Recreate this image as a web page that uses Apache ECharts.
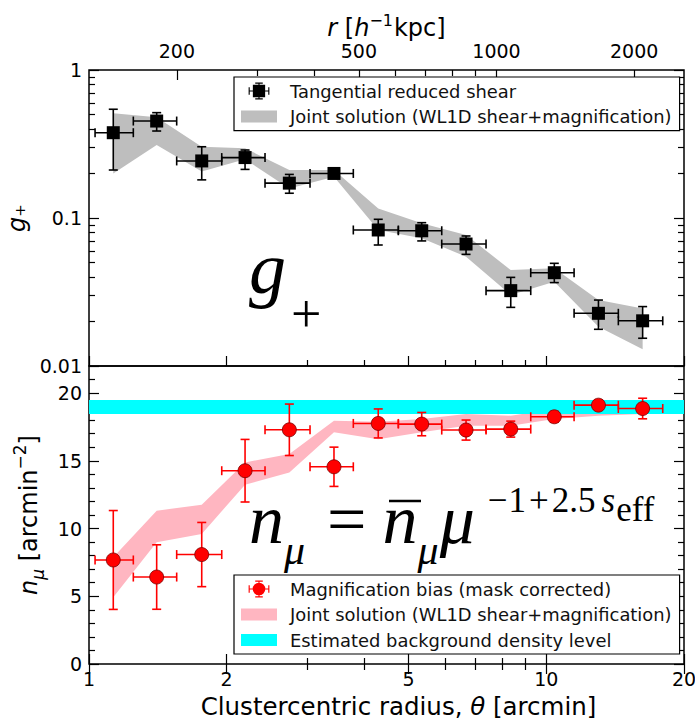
<!DOCTYPE html>
<html>
<head>
<meta charset="utf-8">
<script src="https://cdn.jsdelivr.net/npm/echarts@6.0.0/dist/echarts.min.js"></script>
<style>
  html, body { margin: 0; padding: 0; background: #fff; }
  #chart { width: 695px; height: 723px; }
</style>
</head>
<body>
<div id="chart"></div>
<script>
// Radial bins in arcmin: bin centres and bin edges
const thetaMid = [1.13, 1.406, 1.764, 2.194, 2.742, 3.433, 4.29, 5.34, 6.675, 8.36, 10.41, 13.0, 16.24];
const thetaLo  = [1.031, 1.250, 1.555, 1.951, 2.426, 3.043, 3.784, 4.747, 5.906, 7.382, 9.245, 11.50, 14.37];
const thetaHi  = [1.250, 1.555, 1.951, 2.426, 3.043, 3.784, 4.747, 5.906, 7.382, 9.245, 11.50, 14.37, 17.97];

// Tangential reduced shear g+ and its 1-sigma range
const gPlus   = [0.377, 0.452, 0.243, 0.256, 0.172, 0.200, 0.083, 0.082, 0.0667, 0.0323, 0.0427, 0.0227, 0.0202];
const gPlusLo = [0.211, 0.387, 0.181, 0.213, 0.147, 0.190, 0.0657, 0.070, 0.0568, 0.0249, 0.0366, 0.0177, 0.0154];
const gPlusHi = [0.543, 0.515, 0.303, 0.288, 0.197, 0.210, 0.098, 0.093, 0.0756, 0.0397, 0.0494, 0.0279, 0.0252];

// Joint WL1D solution for g+
const gJointLo = [0.200, 0.311, 0.206, 0.249, 0.158, 0.190, 0.083, 0.073, 0.0548, 0.0302, 0.0371, 0.0184, 0.0130];
const gJointHi = [0.510, 0.479, 0.303, 0.296, 0.211, 0.211, 0.116, 0.092, 0.0768, 0.0445, 0.0457, 0.0279, 0.0245];

// Magnification bias: number density and errors [arcmin^-2]
const nMu    = [7.68, 6.42, 8.08, 14.27, 17.29, 14.56, 17.76, 17.71, 17.27, 17.34, 18.25, 19.11, 18.86];
const nMuErr = [3.65, 2.38, 2.37, 2.31, 1.90, 1.45, 1.07, 0.86, 0.74, 0.59, 0.40, 0.35, 0.76];

// Joint WL1D solution for n_mu
const nJointLo = [4.93, 8.98, 9.60, 13.24, 14.14, 17.10, 16.60, 17.10, 17.59, 17.59, 18.08, 18.33, 18.45];
const nJointHi = [7.88, 11.32, 11.76, 14.88, 15.50, 17.96, 17.88, 18.08, 18.45, 18.33, 18.82, 18.94, 18.94];

// Background density level (lower, upper)
const nBackground = [18.45, 19.49];

// Axis ranges and ticks
const thetaRange = [1, 20];
const kpcPerArcmin = 128.5;
const gRange = [0.01, 1];
const nRange = [0, 22];
const thetaMajor = [1, 2, 5, 10, 20];
const thetaMinor = [3, 4, 6, 7, 8, 9];
const rMajor = [200, 500, 1000, 2000];
const rMinor = [300, 400, 600, 700, 800, 900];
const gMajor = [0.01, 0.1, 1];
const gMinor = [0.02, 0.03, 0.04, 0.05, 0.06, 0.07, 0.08, 0.09, 0.2, 0.3, 0.4, 0.5, 0.6, 0.7, 0.8, 0.9];
const nMajor = [0, 5, 10, 15, 20];
const nMinor = [1, 2, 3, 4, 6, 7, 8, 9, 11, 12, 13, 14, 16, 17, 18, 19, 21];

const legendText = {
  shear: 'Tangential reduced shear',
  shearJoint: 'Joint solution (WL1D shear+magnification)',
  magnification: 'Magnification bias (mask corrected)',
  magJoint: 'Joint solution (WL1D shear+magnification)',
  background: 'Estimated background density level'
};

const SANS = 'DejaVu Sans';
const SERIF = 'Liberation Serif';
const INK = '#000';
const MAJOR_LEN = 10, MINOR_LEN = 6;

function fmtNum(v) { return String(+Number(v).toPrecision(6)); }

// An axis that only contributes inward ticks (and optionally labels) at given values
function tickAxis(base, values, len, labelOpts) {
  const ax = Object.assign({
    axisLine: { show: false },
    splitLine: { show: false },
    axisTick: { show: true, inside: true, length: len, customValues: values,
                lineStyle: { color: INK, width: 1.2 } },
    axisLabel: { show: false }
  }, base);
  if (labelOpts) {
    ax.axisLabel = Object.assign({
      show: true, customValues: values, color: INK, fontSize: 19,
      fontFamily: SANS, formatter: fmtNum
    }, labelOpts);
  }
  return ax;
}

// Rich-text token styles for axis titles (raised / lowered via bottom padding)
function tok(extra) {
  return Object.assign({ fontSize: 24, fontFamily: SANS, color: INK, verticalAlign: 'bottom' }, extra);
}

const thetaAxis = (grid, pos) => ({ type: 'log', logBase: 10, min: thetaRange[0], max: thetaRange[1], gridIndex: grid, position: pos });
const rAxis = (grid) => ({ type: 'log', logBase: 10, min: thetaRange[0] * kpcPerArcmin, max: thetaRange[1] * kpcPerArcmin, gridIndex: grid, position: 'top' });
const gAxis = (pos) => ({ type: 'log', logBase: 10, min: gRange[0], max: gRange[1], gridIndex: 0, position: pos });
const nAxis = (pos) => ({ type: 'value', min: nRange[0], max: nRange[1], gridIndex: 1, position: pos });

const xAxes = [
  // top panel
  tickAxis(thetaAxis(0, 'bottom'), thetaMajor, MAJOR_LEN),
  tickAxis(thetaAxis(0, 'bottom'), thetaMinor, MINOR_LEN),
  tickAxis(Object.assign(rAxis(0), {
    name: '{i|r}{t| [}{i|h}{sup|−1}{t|kpc]}',
    nameLocation: 'middle', nameGap: 30,
    nameTextStyle: {
      color: INK, fontFamily: SANS, fontSize: 24,
      rich: {
        i: tok({ fontStyle: 'italic' }),
        t: tok({}),
        sup: tok({ fontSize: 16, padding: [0, 1, 12, 0] })
      }
    }
  }), rMajor, MAJOR_LEN, { margin: 10 }),
  tickAxis(rAxis(0), rMinor, MINOR_LEN),
  // bottom panel
  tickAxis(Object.assign(thetaAxis(1, 'bottom'), {
    name: 'Clustercentric radius, {i|θ} [arcmin]',
    nameLocation: 'middle', nameGap: 30,
    nameTextStyle: {
      color: INK, fontFamily: SANS, fontSize: 24.5, verticalAlign: 'top', padding: [0, 0, 0, 24],
      rich: { i: { fontStyle: 'italic', fontSize: 24.5, fontFamily: SANS, color: INK } }
    }
  }), thetaMajor, MAJOR_LEN, { margin: 5 }),
  tickAxis(thetaAxis(1, 'bottom'), thetaMinor, MINOR_LEN),
  tickAxis(thetaAxis(1, 'top'), thetaMajor, MAJOR_LEN),
  tickAxis(thetaAxis(1, 'top'), thetaMinor, MINOR_LEN)
];

const yAxes = [
  tickAxis(Object.assign(gAxis('left'), {
    name: '{i|g}₊', nameLocation: 'middle', nameRotate: 90, nameGap: 50,
    nameTextStyle: {
      color: INK, fontFamily: SANS, fontSize: 24,
      rich: { i: { fontStyle: 'italic', fontSize: 24, fontFamily: SANS, color: INK } }
    }
  }), gMajor, MAJOR_LEN, { margin: 7 }),
  tickAxis(gAxis('left'), gMinor, MINOR_LEN),
  tickAxis(gAxis('right'), gMajor, MAJOR_LEN),
  tickAxis(gAxis('right'), gMinor, MINOR_LEN),
  tickAxis(Object.assign(nAxis('left'), {
    name: '{i|n}{sub|μ}{t| [arcmin}{sup|−2}{t|]}', nameLocation: 'middle', nameRotate: 90, nameGap: 40,
    nameTextStyle: {
      color: INK, fontFamily: SANS, fontSize: 24,
      rich: {
        i: tok({ fontStyle: 'italic', padding: [0, 0, 6, 0] }),
        t: tok({ padding: [0, 0, 6, 0] }),
        sub: tok({ fontStyle: 'italic', fontSize: 17, padding: [0, 0, 0, 0] }),
        sup: tok({ fontSize: 17, padding: [0, 0, 18, 0] })
      }
    }
  }), nMajor, MAJOR_LEN, { margin: 7 }),
  tickAxis(nAxis('left'), nMinor, MINOR_LEN),
  tickAxis(nAxis('right'), nMajor, MAJOR_LEN),
  tickAxis(nAxis('right'), nMinor, MINOR_LEN)
];

// Shaded band between lower and upper curves, drawn as one polygon
function bandRender(params, api) {
  if (params.dataIndexInside !== 0) return null;
  const n = params.dataInsideLength;
  const upper = [], lower = [];
  for (let i = 0; i < n; i++) {
    const x = api.value(0, i);
    upper.push(api.coord([x, api.value(2, i)]));
    lower.push(api.coord([x, api.value(1, i)]));
  }
  return {
    type: 'polygon',
    shape: { points: upper.concat(lower.reverse()) },
    style: { fill: api.visual('color') }
  };
}

// Horizontal strip across the full panel width
function stripRender(params, api) {
  const cs = params.coordSys;
  const y1 = api.coord([thetaRange[0], api.value(1)])[1];
  const y2 = api.coord([thetaRange[0], api.value(2)])[1];
  return {
    type: 'rect',
    shape: { x: cs.x, y: Math.min(y1, y2), width: cs.width, height: Math.abs(y2 - y1) },
    style: { fill: api.visual('color') }
  };
}

// Error bars in x (bin width) and y, with caps
function errorBarRender(color) {
  return function (params, api) {
    const c = api.coord([api.value(0), api.value(1)]);
    const xl = api.coord([api.value(2), api.value(1)])[0];
    const xh = api.coord([api.value(3), api.value(1)])[0];
    const yl = api.coord([api.value(0), api.value(4)])[1];
    const yh = api.coord([api.value(0), api.value(5)])[1];
    const cap = 4.5;
    const style = { stroke: color, lineWidth: 1.6 };
    const seg = (x1, y1, x2, y2) => ({ type: 'line', shape: { x1, y1, x2, y2 }, style });
    return {
      type: 'group',
      children: [
        seg(xl, c[1], xh, c[1]),
        seg(c[0], yl, c[0], yh),
        seg(xl, c[1] - cap, xl, c[1] + cap),
        seg(xh, c[1] - cap, xh, c[1] + cap),
        seg(c[0] - cap, yl, c[0] + cap, yl),
        seg(c[0] - cap, yh, c[0] + cap, yh)
      ]
    };
  };
}

const shearBars = thetaMid.map((t, i) => [t, gPlus[i], thetaLo[i], thetaHi[i], gPlusLo[i], gPlusHi[i]]);
const magBars = thetaMid.map((t, i) => [t, nMu[i], thetaLo[i], thetaHi[i], nMu[i] - nMuErr[i], nMu[i] + nMuErr[i]]);

const GREY = '#bebebe', PINK = '#ffb6c1', CYAN = '#00ffff', RED = '#ff0000';

const barSquareIcon = 'path://M0 8.4h22v1.2H0zM10.4 0h1.2v18h-1.2zM0 5h1.2v8H0zM20.8 5h1.2v8h-1.2zM7 0h8v1.2H7zM7 16.8h8v1.2H7zM4.5 2.5h13v13h-13z';
const barCircleIcon = 'path://M0 8.4h22v1.2H0zM10.4 0h1.2v18h-1.2zM0 5h1.2v8H0zM20.8 5h1.2v8h-1.2zM7 0h8v1.2H7zM7 16.8h8v1.2H7zM11 2.3a6.7 6.7 0 1 1 0 13.4a6.7 6.7 0 1 1 0-13.4z';
const patchIcon = 'path://M0 0h36v12H0z';

const legendCommon = {
  orient: 'vertical',
  left: 234,
  itemWidth: 36,
  itemHeight: 17,
  padding: [5, 8, 5, 7],
  backgroundColor: '#fff',
  borderColor: INK,
  borderWidth: 1.2,
  borderRadius: 0,
  selectedMode: false,
  formatter: (name) => legendText[name],
  textStyle: { color: '#111', fontFamily: SANS, fontSize: 17.9, padding: [0, 0, 0, 8] }
};

// Formula token styles (serif, maths-like); bottom padding sets the vertical offset
const ftok = (extra) => Object.assign({ fontFamily: SERIF, fill: INK, verticalAlign: 'bottom' }, extra);

const gridCommon = { left: 89, width: 595, show: true, borderColor: INK, borderWidth: 1.5,
                     backgroundColor: 'transparent', containLabel: false, outerBoundsMode: 'none' };

const option = {
  animation: false,
  backgroundColor: '#fff',
  grid: [
    Object.assign({ top: 70, height: 296 }, gridCommon),
    Object.assign({ top: 366, height: 298 }, gridCommon)
  ],
  xAxis: xAxes,
  yAxis: yAxes,
  legend: [
    Object.assign({}, legendCommon, {
      top: 77, itemGap: 7.6,
      data: [
        { name: 'shear', icon: barSquareIcon, itemStyle: { color: INK, borderWidth: 0 } },
        { name: 'shearJoint', icon: patchIcon, itemStyle: { color: GREY } }
      ]
    }),
    Object.assign({}, legendCommon, {
      top: 575, itemGap: 7.5,
      data: [
        { name: 'magnification', icon: barCircleIcon, itemStyle: { color: RED, borderColor: RED, borderWidth: 0 } },
        { name: 'magJoint', icon: patchIcon, itemStyle: { color: PINK } },
        { name: 'background', icon: patchIcon, itemStyle: { color: CYAN } }
      ]
    })
  ],
  series: [
    {
      name: 'shearJoint', type: 'custom', xAxisIndex: 0, yAxisIndex: 0, z: 1,
      itemStyle: { color: GREY },
      encode: { x: 0, y: [1, 2] },
      data: thetaMid.map((t, i) => [t, gJointLo[i], gJointHi[i]]),
      renderItem: bandRender
    },
    {
      name: 'shearBars', type: 'custom', xAxisIndex: 0, yAxisIndex: 0, z: 3,
      itemStyle: { color: INK },
      encode: { x: [0, 2, 3], y: [1, 4, 5] },
      data: shearBars,
      renderItem: errorBarRender(INK)
    },
    {
      name: 'shear', type: 'scatter', xAxisIndex: 0, yAxisIndex: 0, z: 4,
      symbol: 'rect', symbolSize: 13,
      itemStyle: { color: INK, opacity: 1 },
      data: thetaMid.map((t, i) => [t, gPlus[i]])
    },
    {
      name: 'magJoint', type: 'custom', xAxisIndex: 4, yAxisIndex: 4, z: 1,
      itemStyle: { color: PINK },
      encode: { x: 0, y: [1, 2] },
      data: thetaMid.map((t, i) => [t, nJointLo[i], nJointHi[i]]),
      renderItem: bandRender
    },
    {
      name: 'background', type: 'custom', xAxisIndex: 4, yAxisIndex: 4, z: 2,
      itemStyle: { color: CYAN },
      encode: { x: 0, y: [1, 2] },
      data: [[thetaRange[0], nBackground[0], nBackground[1]]],
      renderItem: stripRender
    },
    {
      name: 'magBars', type: 'custom', xAxisIndex: 4, yAxisIndex: 4, z: 3,
      itemStyle: { color: RED },
      encode: { x: [0, 2, 3], y: [1, 4, 5] },
      data: magBars,
      renderItem: errorBarRender(RED)
    },
    {
      name: 'magnification', type: 'scatter', xAxisIndex: 4, yAxisIndex: 4, z: 4,
      symbol: 'circle', symbolSize: 14,
      itemStyle: { color: RED, borderColor: '#7a0000', borderWidth: 0.8, opacity: 1 },
      data: thetaMid.map((t, i) => [t, nMu[i]])
    }
  ],
  graphic: [
    // g_+ annotation
    { type: 'text', x: 249, y: 342, style: {
        text: '{g|g}{p|+}', align: 'left', verticalAlign: 'bottom',
        rich: {
          g: ftok({ fontSize: 74, fontStyle: 'italic', padding: [0, 0, 37, 0] }),
          p: ftok({ fontSize: 54, padding: [0, 0, 1, 5] })
        }
      } },
    // n_mu = nbar_mu mu^(-1+2.5 s_eff)
    { type: 'text', x: 249, y: 576, style: {
        text: '{N|n}{m|μ}{eq|=}{N|n}{m|μ}{M|μ}{a0|−}{a|1}{p|+}{a|2.5}{s|s}{e|eff}',
        align: 'left', verticalAlign: 'bottom',
        rich: {
          N: ftok({ fontSize: 70, fontStyle: 'italic', padding: [0, 0, 22, 0] }),
          m: ftok({ fontSize: 42, fontStyle: 'italic', padding: [0, 0, 5, 0] }),
          eq: ftok({ fontSize: 70, padding: [0, 16, 22, 22] }),
          M: ftok({ fontSize: 70, fontStyle: 'italic', padding: [0, 0, 22, 1] }),
          a0: ftok({ fontSize: 35, padding: [0, 1, 58, 13] }),
          a: ftok({ fontSize: 35, padding: [0, 0, 58, 0] }),
          p: ftok({ fontSize: 35, padding: [0, 3, 58, 3] }),
          s: ftok({ fontSize: 35, fontStyle: 'italic', padding: [0, 1, 58, 6] }),
          e: ftok({ fontSize: 35, padding: [0, 0, 49, 0] })
        }
      } },
    { type: 'line', shape: { x1: 389, y1: 501, x2: 421, y2: 501 }, style: { stroke: INK, lineWidth: 2.5 } }
  ]
};

const chart = echarts.init(document.getElementById('chart'), null, { renderer: 'svg' });
chart.setOption(option);
</script>
</body>
</html>
